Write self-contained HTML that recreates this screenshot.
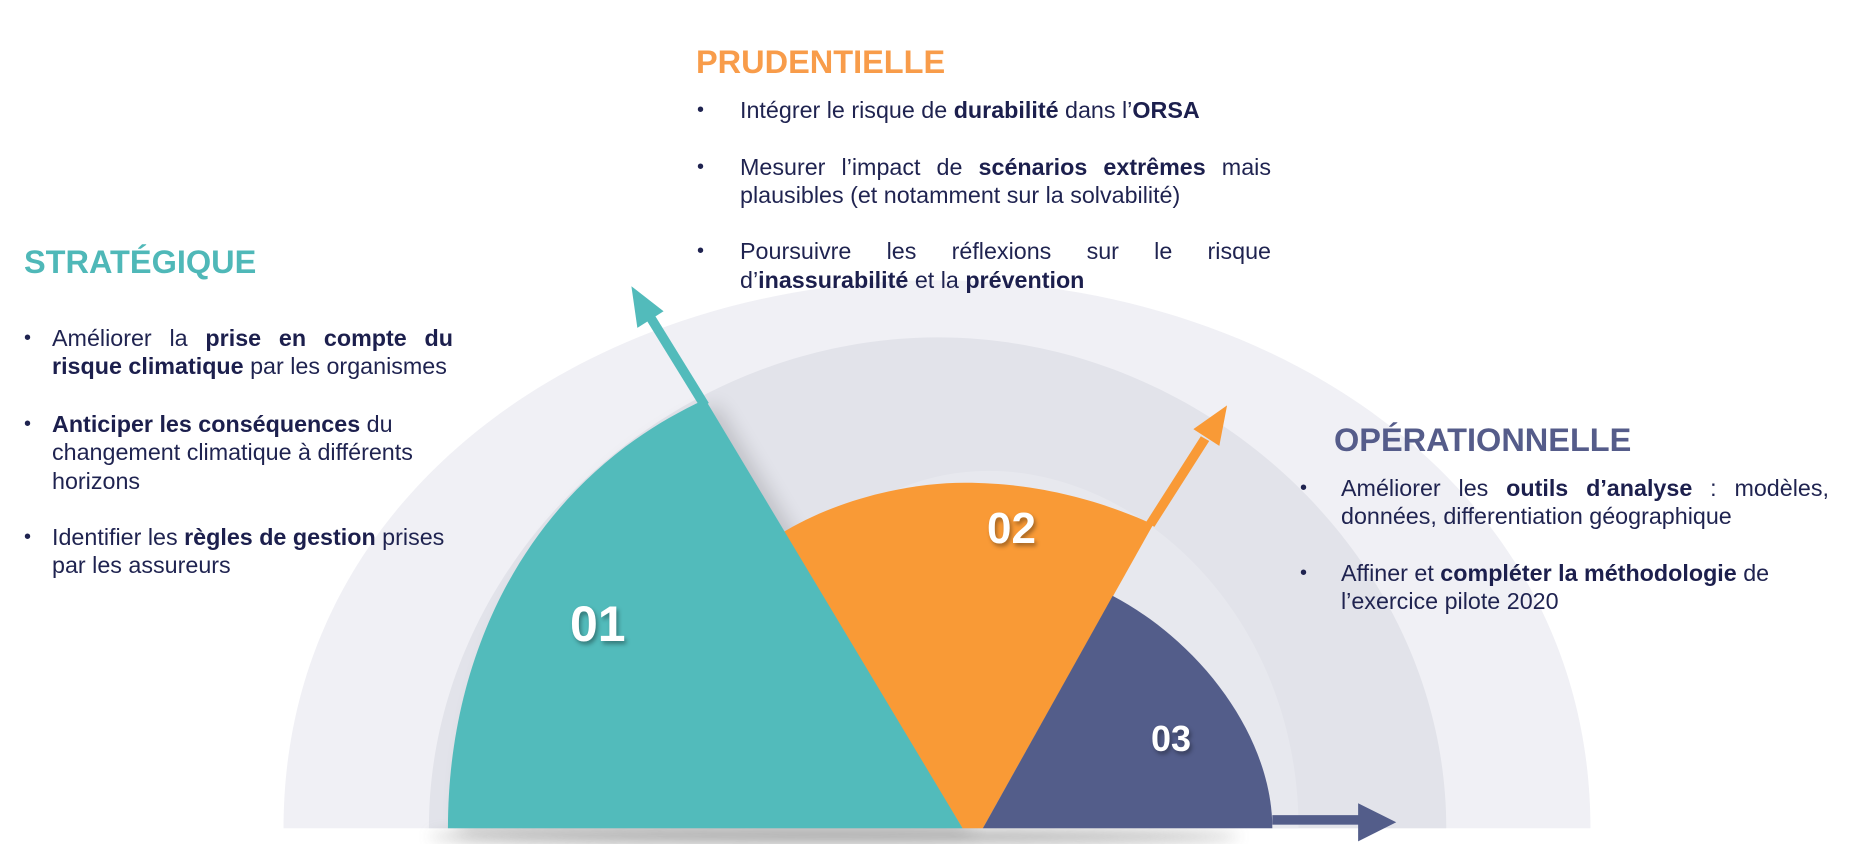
<!DOCTYPE html>
<html><head><meta charset="utf-8"><style>
html,body{margin:0;padding:0;background:#fff;}
body{width:1868px;height:844px;position:relative;overflow:hidden;font-family:"Liberation Sans",sans-serif;color:#1f2350;}
svg{position:absolute;left:0;top:0;}
.h{position:absolute;font-weight:bold;font-size:32.5px;line-height:40px;white-space:nowrap;}
.l{position:absolute;font-size:23.3px;line-height:28.6px;white-space:nowrap;}
.j{text-align:justify;text-align-last:justify;}
b{font-weight:bold;color:#1c1f4d;}
.bu{position:absolute;font-size:20px;line-height:28.6px;}
.n{position:absolute;color:#fff;font-weight:bold;text-shadow:2px 3px 4px rgba(0,0,0,0.35);}
</style></head><body>
<svg width="1868" height="844" viewBox="0 0 1568 708">
<defs><filter id="bl" x="-20%" y="-200%" width="140%" height="500%"><feGaussianBlur stdDeviation="6"/></filter>
<filter id="sh" x="-20%" y="-20%" width="140%" height="140%"><feGaussianBlur stdDeviation="8"/></filter></defs>
<path d="M238,695 C238,410 500,235 786,235 C1072,235 1335,410 1335,695 Z" fill="#f0f0f5"/>
<path d="M360,695 C360,470 560,283 787,283 C1014,283 1214,470 1214,695 Z" fill="#e2e3ea"/>
<path d="M600,695 C600,520 700,395 830,395 C960,395 1090,520 1090,695 Z" fill="#e7e8ee"/>
<ellipse cx="700" cy="702" rx="340" ry="6" fill="#777" opacity="0.6" filter="url(#bl)"/>
<path d="M376,695 C376,540 450,400 592,335 L808,695 Z" fill="#000" opacity="0.15" filter="url(#sh)" transform="translate(10,4)"/>
<path d="M655,448 C700,420 760,405 810,405 C880,405 935,425 968,440 L825,695 L808,695 Z" fill="#f99a36"/>
<path d="M934,500 C1010,540 1068,620 1068,695 L825,695 Z" fill="#535d8a"/>
<path d="M376,695 C376,540 450,400 592,335 L808,695 Z" fill="#52bbbb"/>
<polygon points="595,338 588,342 543,269 550,265" fill="#52bbbb"/>
<polygon points="530,240 557,261 535,275" fill="#52bbbb"/>
<polygon points="962,438 969,442 1015,370 1008,366" fill="#f99a36"/>
<polygon points="1030,340 1023.5,374 1001.7,360" fill="#f99a36"/>
<rect x="1068" y="684" width="76" height="8" fill="#535d8a"/>
<polygon points="1172,690 1140,674 1140,706" fill="#535d8a"/>
</svg>

<div class="h" style="left:696px;top:42px;color:#f89c4a;">PRUDENTIELLE</div>
<div class="bu" style="left:697px;top:96px;">•</div>
<div class="l" style="left:740px;top:96px;">Intégrer le risque de <b>durabilité</b> dans l’<b>ORSA</b></div>
<div class="bu" style="left:697px;top:153px;">•</div>
<div class="l j" style="left:740px;top:153px;width:531px;">Mesurer l’impact de <b>scénarios extrêmes</b> mais</div>
<div class="l" style="left:740px;top:181px;">plausibles (et notamment sur la solvabilité)</div>
<div class="bu" style="left:697px;top:237px;">•</div>
<div class="l j" style="left:740px;top:237px;width:531px;">Poursuivre les réflexions sur le risque</div>
<div class="l" style="left:740px;top:266px;">d’<b>inassurabilité</b> et la <b>prévention</b></div>

<div class="h" style="left:24px;top:242px;color:#4fb8b8;">STRATÉGIQUE</div>
<div class="bu" style="left:24px;top:324px;">•</div>
<div class="l j" style="left:52px;top:324px;width:401px;">Améliorer la <b>prise en compte du</b></div>
<div class="l" style="left:52px;top:352px;"><b>risque climatique</b> par les organismes</div>
<div class="bu" style="left:24px;top:410px;">•</div>
<div class="l" style="left:52px;top:410px;"><b>Anticiper les conséquences</b> du</div>
<div class="l" style="left:52px;top:438px;">changement climatique à différents</div>
<div class="l" style="left:52px;top:467px;">horizons</div>
<div class="bu" style="left:24px;top:523px;">•</div>
<div class="l" style="left:52px;top:523px;">Identifier les <b>règles de gestion</b> prises</div>
<div class="l" style="left:52px;top:551px;">par les assureurs</div>

<div class="h" style="left:1334px;top:420px;color:#555c8a;">OPÉRATIONNELLE</div>
<div class="bu" style="left:1300px;top:474px;">•</div>
<div class="l j" style="left:1341px;top:474px;width:488px;">Améliorer les <b>outils d’analyse</b> : modèles,</div>
<div class="l" style="left:1341px;top:502px;">données, differentiation géographique</div>
<div class="bu" style="left:1300px;top:559px;">•</div>
<div class="l" style="left:1341px;top:559px;">Affiner et <b>compléter la méthodologie</b> de</div>
<div class="l" style="left:1341px;top:587px;">l’exercice pilote 2020</div>

<div class="n" style="left:570px;top:596px;font-size:50px;line-height:56px;">01</div>
<div class="n" style="left:987px;top:504px;font-size:44px;line-height:50px;">02</div>
<div class="n" style="left:1151px;top:718px;font-size:36px;line-height:42px;">03</div>
</body></html>
